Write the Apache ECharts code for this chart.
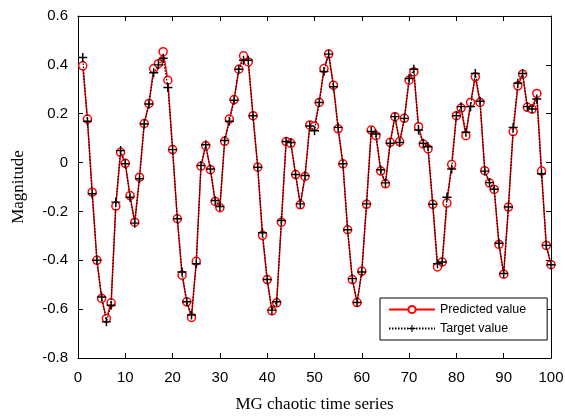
<!DOCTYPE html>
<html>
<head>
<meta charset="utf-8">
<script src="https://cdn.jsdelivr.net/npm/echarts@6/dist/echarts.min.js"></script>
<style>
html, body { margin: 0; padding: 0; background: #fff; }
#main { width: 565px; height: 419px; }
</style>
</head>
<body>
<div id="main"></div>
<script>
// values, samples 1..100
var predicted = [
  0.396, 0.178, -0.121, -0.40, -0.556, -0.638, -0.574, -0.178, 0.042, -0.003,
  -0.135, -0.244, -0.06, 0.16, 0.242, 0.385, 0.405, 0.454, 0.337, 0.053,
  -0.23, -0.461, -0.57, -0.634, -0.404, -0.015, 0.069, -0.029, -0.159, -0.185,
  0.087, 0.178, 0.258, 0.382, 0.437, 0.412, 0.192, -0.019, -0.298, -0.479,
  -0.607, -0.574, -0.244, 0.086, 0.079, -0.049, -0.173, -0.057, 0.154, 0.149,
  0.246, 0.385, 0.444, 0.317, 0.138, -0.005, -0.275, -0.479, -0.573, -0.444,
  -0.171, 0.133, 0.11, -0.035, -0.087, 0.083, 0.188, 0.086, 0.181, 0.337,
  0.371, 0.147, 0.076, 0.056, -0.171, -0.427, -0.407, -0.166, -0.008, 0.192,
  0.223, 0.11, 0.246, 0.351, 0.246, -0.033, -0.084, -0.11, -0.335, -0.457,
  -0.182, 0.127, 0.314, 0.362, 0.226, 0.219, 0.283, -0.035, -0.339, -0.418
];
var target = [
  0.43, 0.169, -0.128, -0.40, -0.55, -0.652, -0.584, -0.162, 0.049, -0.005,
  -0.142, -0.248, -0.066, 0.158, 0.24, 0.368, 0.40, 0.427, 0.307, 0.053,
  -0.23, -0.448, -0.57, -0.624, -0.414, -0.012, 0.073, -0.026, -0.155, -0.18,
  0.09, 0.169, 0.255, 0.382, 0.419, 0.419, 0.192, -0.019, -0.287, -0.479,
  -0.604, -0.57, -0.237, 0.086, 0.082, -0.049, -0.169, -0.053, 0.15, 0.13,
  0.246, 0.373, 0.444, 0.31, 0.144, -0.005, -0.275, -0.475, -0.573, -0.448,
  -0.169, 0.127, 0.117, -0.029, -0.083, 0.079, 0.188, 0.082, 0.181, 0.344,
  0.382, 0.133, 0.079, 0.065, -0.171, -0.414, -0.407, -0.142, -0.026, 0.192,
  0.229, 0.124, 0.229, 0.365, 0.251, -0.035, -0.082, -0.109, -0.33, -0.454,
  -0.182, 0.144, 0.325, 0.365, 0.229, 0.219, 0.26, -0.046, -0.339, -0.418
];
var seriesNames = ['Predicted value', 'Target value'];

var steps = predicted.map(function (v, i) { return i + 1; });
function pairs(arr) { return arr.map(function (v, i) { return [steps[i], v]; }); }

var plusPath = 'path://M4.2,0H5.8V4.2H10V5.8H5.8V10H4.2V5.8H0V4.2H4.2Z';
var labelFont = { fontFamily: 'Liberation Sans, Arial', fontSize: 15, color: '#000' };
var nameFont = { fontFamily: 'Liberation Serif, Times New Roman', fontSize: 17, color: '#000' };
var line = { onZero: false, lineStyle: { color: '#000', width: 1 } };
var tick = { inside: true, length: 5, lineStyle: { color: '#000', width: 1 } };

var chart = echarts.init(document.getElementById('main'), null, { renderer: 'canvas' });
var option = {
  animation: false,
  backgroundColor: '#fff',
  grid: { left: 78, right: 14, top: 16, bottom: 61, containLabel: false, outerBoundsMode: 'none' },
  legend: {
    data: seriesNames,
    orient: 'vertical',
    left: 380,
    top: 298,
    itemWidth: 46,
    itemHeight: 9,
    itemGap: 6,
    padding: [5, 21, 5, 8],
    borderColor: '#000',
    borderWidth: 1,
    backgroundColor: '#fff',
    textStyle: { fontFamily: 'Liberation Sans, Arial', fontSize: 12.5, color: '#000' }
  },
  xAxis: [
    {
      type: 'value', min: 0, max: 100, interval: 10, position: 'bottom',
      name: 'MG chaotic time series', nameLocation: 'middle', nameGap: 38, nameTextStyle: nameFont,
      axisLine: line, axisTick: tick, splitLine: { show: false },
      axisLabel: Object.assign({ margin: 12 }, labelFont)
    },
    {
      type: 'value', min: 0, max: 100, interval: 10, position: 'top',
      axisLine: line, axisTick: tick, splitLine: { show: false }, axisLabel: { show: false }
    }
  ],
  yAxis: [
    {
      type: 'value', min: -0.8, max: 0.6, interval: 0.2, position: 'left',
      name: 'Magnitude', nameLocation: 'middle', nameGap: 51, nameTextStyle: nameFont,
      axisLine: line, axisTick: tick, splitLine: { show: false },
      axisLabel: Object.assign({ margin: 10, formatter: function (v) { return String(Math.round(v * 10) / 10); } }, labelFont)
    },
    {
      type: 'value', min: -0.8, max: 0.6, interval: 0.2, position: 'right',
      axisLine: line, axisTick: tick, splitLine: { show: false }, axisLabel: { show: false }
    }
  ],
  series: [
    {
      name: seriesNames[0],
      type: 'line',
      data: pairs(predicted),
      symbol: 'circle',
      symbolSize: 8,
      showAllSymbol: true,
      itemStyle: { color: '#fff', borderColor: '#ff0000', borderWidth: 1.5 },
      lineStyle: { color: '#ff0000', width: 1.5 },
      z: 2
    },
    {
      name: seriesNames[1],
      type: 'line',
      data: pairs(target),
      symbol: plusPath,
      symbolSize: 9,
      showAllSymbol: true,
      itemStyle: { color: '#000', borderWidth: 0 },
      lineStyle: { color: '#000', width: 1.2, type: [1.5, 1.5] },
      z: 3
    }
  ]
};
chart.setOption(option);
</script>
</body>
</html>
